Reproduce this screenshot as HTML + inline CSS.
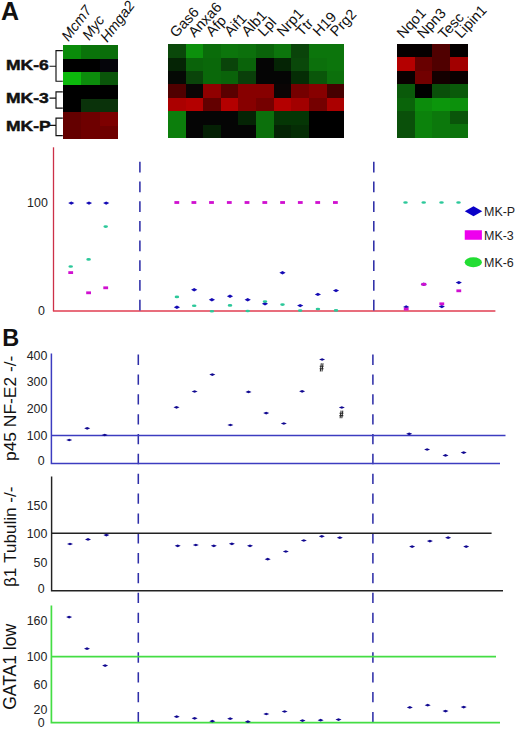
<!DOCTYPE html><html><head><meta charset="utf-8"><style>html,body{margin:0;padding:0;background:#fff;width:520px;height:730px;overflow:hidden}svg{display:block}text{font-family:"Liberation Sans", sans-serif}</style></head><body>
<svg width="520" height="730" viewBox="0 0 520 730">
<rect width="520" height="730" fill="#fff"/>
<rect x="63" y="45" width="18" height="14" fill="rgb(10, 140, 10)" shape-rendering="crispEdges"/>
<rect x="81" y="45" width="19" height="14" fill="rgb(10, 115, 10)" shape-rendering="crispEdges"/>
<rect x="100" y="45" width="18" height="14" fill="rgb(10, 110, 10)" shape-rendering="crispEdges"/>
<rect x="63" y="59" width="18" height="13" fill="rgb(0, 0, 0)" shape-rendering="crispEdges"/>
<rect x="81" y="59" width="19" height="13" fill="rgb(0, 0, 0)" shape-rendering="crispEdges"/>
<rect x="100" y="59" width="18" height="13" fill="rgb(5, 5, 10)" shape-rendering="crispEdges"/>
<rect x="63" y="72" width="18" height="13" fill="rgb(12, 185, 12)" shape-rendering="crispEdges"/>
<rect x="81" y="72" width="19" height="13" fill="rgb(12, 140, 12)" shape-rendering="crispEdges"/>
<rect x="100" y="72" width="18" height="13" fill="rgb(10, 85, 10)" shape-rendering="crispEdges"/>
<rect x="63" y="85" width="18" height="14" fill="rgb(0, 0, 0)" shape-rendering="crispEdges"/>
<rect x="81" y="85" width="19" height="14" fill="rgb(0, 0, 0)" shape-rendering="crispEdges"/>
<rect x="100" y="85" width="18" height="14" fill="rgb(0, 0, 0)" shape-rendering="crispEdges"/>
<rect x="63" y="99" width="18" height="13" fill="rgb(0, 0, 0)" shape-rendering="crispEdges"/>
<rect x="81" y="99" width="19" height="13" fill="rgb(10, 50, 10)" shape-rendering="crispEdges"/>
<rect x="100" y="99" width="18" height="13" fill="rgb(10, 50, 10)" shape-rendering="crispEdges"/>
<rect x="63" y="112" width="18" height="14" fill="rgb(100, 0, 0)" shape-rendering="crispEdges"/>
<rect x="81" y="112" width="19" height="14" fill="rgb(110, 0, 0)" shape-rendering="crispEdges"/>
<rect x="100" y="112" width="18" height="14" fill="rgb(125, 0, 0)" shape-rendering="crispEdges"/>
<rect x="63" y="126" width="18" height="13" fill="rgb(100, 0, 0)" shape-rendering="crispEdges"/>
<rect x="81" y="126" width="19" height="13" fill="rgb(110, 0, 0)" shape-rendering="crispEdges"/>
<rect x="100" y="126" width="18" height="13" fill="rgb(110, 0, 0)" shape-rendering="crispEdges"/>
<rect x="168" y="44" width="18" height="14" fill="rgb(10, 72, 10)" shape-rendering="crispEdges"/>
<rect x="186" y="44" width="17" height="14" fill="rgb(12, 144, 12)" shape-rendering="crispEdges"/>
<rect x="203" y="44" width="18" height="14" fill="rgb(10, 108, 10)" shape-rendering="crispEdges"/>
<rect x="221" y="44" width="17" height="14" fill="rgb(12, 117, 12)" shape-rendering="crispEdges"/>
<rect x="238" y="44" width="18" height="14" fill="rgb(12, 112, 12)" shape-rendering="crispEdges"/>
<rect x="256" y="44" width="18" height="14" fill="rgb(10, 99, 10)" shape-rendering="crispEdges"/>
<rect x="274" y="44" width="17" height="14" fill="rgb(12, 117, 12)" shape-rendering="crispEdges"/>
<rect x="291" y="44" width="18" height="14" fill="rgb(10, 68, 10)" shape-rendering="crispEdges"/>
<rect x="309" y="44" width="18" height="14" fill="rgb(12, 117, 12)" shape-rendering="crispEdges"/>
<rect x="327" y="44" width="17" height="14" fill="rgb(12, 117, 12)" shape-rendering="crispEdges"/>
<rect x="168" y="58" width="18" height="13" fill="rgb(5, 36, 5)" shape-rendering="crispEdges"/>
<rect x="186" y="58" width="17" height="13" fill="rgb(10, 99, 10)" shape-rendering="crispEdges"/>
<rect x="203" y="58" width="18" height="13" fill="rgb(10, 104, 10)" shape-rendering="crispEdges"/>
<rect x="221" y="58" width="17" height="13" fill="rgb(10, 68, 10)" shape-rendering="crispEdges"/>
<rect x="238" y="58" width="18" height="13" fill="rgb(10, 99, 10)" shape-rendering="crispEdges"/>
<rect x="256" y="58" width="18" height="13" fill="rgb(5, 5, 5)" shape-rendering="crispEdges"/>
<rect x="274" y="58" width="17" height="13" fill="rgb(5, 36, 5)" shape-rendering="crispEdges"/>
<rect x="291" y="58" width="18" height="13" fill="rgb(10, 72, 10)" shape-rendering="crispEdges"/>
<rect x="309" y="58" width="18" height="13" fill="rgb(12, 112, 12)" shape-rendering="crispEdges"/>
<rect x="327" y="58" width="17" height="13" fill="rgb(12, 117, 12)" shape-rendering="crispEdges"/>
<rect x="168" y="71" width="18" height="13" fill="rgb(5, 9, 5)" shape-rendering="crispEdges"/>
<rect x="186" y="71" width="17" height="13" fill="rgb(10, 68, 10)" shape-rendering="crispEdges"/>
<rect x="203" y="71" width="18" height="13" fill="rgb(10, 104, 10)" shape-rendering="crispEdges"/>
<rect x="221" y="71" width="17" height="13" fill="rgb(10, 99, 10)" shape-rendering="crispEdges"/>
<rect x="238" y="71" width="18" height="13" fill="rgb(10, 63, 10)" shape-rendering="crispEdges"/>
<rect x="256" y="71" width="18" height="13" fill="rgb(5, 5, 5)" shape-rendering="crispEdges"/>
<rect x="274" y="71" width="17" height="13" fill="rgb(5, 5, 5)" shape-rendering="crispEdges"/>
<rect x="291" y="71" width="18" height="13" fill="rgb(5, 45, 5)" shape-rendering="crispEdges"/>
<rect x="309" y="71" width="18" height="13" fill="rgb(10, 86, 10)" shape-rendering="crispEdges"/>
<rect x="327" y="71" width="17" height="13" fill="rgb(12, 112, 12)" shape-rendering="crispEdges"/>
<rect x="168" y="84" width="18" height="14" fill="rgb(80, 0, 0)" shape-rendering="crispEdges"/>
<rect x="186" y="84" width="17" height="14" fill="rgb(10, 5, 5)" shape-rendering="crispEdges"/>
<rect x="203" y="84" width="18" height="14" fill="rgb(144, 0, 0)" shape-rendering="crispEdges"/>
<rect x="221" y="84" width="17" height="14" fill="rgb(90, 0, 0)" shape-rendering="crispEdges"/>
<rect x="238" y="84" width="18" height="14" fill="rgb(135, 0, 0)" shape-rendering="crispEdges"/>
<rect x="256" y="84" width="18" height="14" fill="rgb(135, 0, 0)" shape-rendering="crispEdges"/>
<rect x="274" y="84" width="17" height="14" fill="rgb(10, 5, 5)" shape-rendering="crispEdges"/>
<rect x="291" y="84" width="18" height="14" fill="rgb(117, 0, 0)" shape-rendering="crispEdges"/>
<rect x="309" y="84" width="18" height="14" fill="rgb(135, 0, 0)" shape-rendering="crispEdges"/>
<rect x="327" y="84" width="17" height="14" fill="rgb(70, 0, 0)" shape-rendering="crispEdges"/>
<rect x="168" y="98" width="18" height="13" fill="rgb(171, 0, 0)" shape-rendering="crispEdges"/>
<rect x="186" y="98" width="17" height="13" fill="rgb(180, 0, 0)" shape-rendering="crispEdges"/>
<rect x="203" y="98" width="18" height="13" fill="rgb(99, 0, 0)" shape-rendering="crispEdges"/>
<rect x="221" y="98" width="17" height="13" fill="rgb(180, 0, 0)" shape-rendering="crispEdges"/>
<rect x="238" y="98" width="18" height="13" fill="rgb(135, 0, 0)" shape-rendering="crispEdges"/>
<rect x="256" y="98" width="18" height="13" fill="rgb(117, 0, 0)" shape-rendering="crispEdges"/>
<rect x="274" y="98" width="17" height="13" fill="rgb(180, 0, 0)" shape-rendering="crispEdges"/>
<rect x="291" y="98" width="18" height="13" fill="rgb(162, 0, 0)" shape-rendering="crispEdges"/>
<rect x="309" y="98" width="18" height="13" fill="rgb(117, 0, 0)" shape-rendering="crispEdges"/>
<rect x="327" y="98" width="17" height="13" fill="rgb(171, 0, 0)" shape-rendering="crispEdges"/>
<rect x="168" y="111" width="18" height="14" fill="rgb(12, 126, 12)" shape-rendering="crispEdges"/>
<rect x="186" y="111" width="17" height="14" fill="rgb(5, 5, 5)" shape-rendering="crispEdges"/>
<rect x="203" y="111" width="18" height="14" fill="rgb(5, 5, 5)" shape-rendering="crispEdges"/>
<rect x="221" y="111" width="17" height="14" fill="rgb(5, 5, 5)" shape-rendering="crispEdges"/>
<rect x="238" y="111" width="18" height="14" fill="rgb(5, 36, 5)" shape-rendering="crispEdges"/>
<rect x="256" y="111" width="18" height="14" fill="rgb(12, 112, 12)" shape-rendering="crispEdges"/>
<rect x="274" y="111" width="17" height="14" fill="rgb(5, 54, 5)" shape-rendering="crispEdges"/>
<rect x="291" y="111" width="18" height="14" fill="rgb(5, 54, 5)" shape-rendering="crispEdges"/>
<rect x="309" y="111" width="18" height="14" fill="rgb(0, 0, 0)" shape-rendering="crispEdges"/>
<rect x="327" y="111" width="17" height="14" fill="rgb(0, 0, 0)" shape-rendering="crispEdges"/>
<rect x="168" y="125" width="18" height="13" fill="rgb(12, 126, 12)" shape-rendering="crispEdges"/>
<rect x="186" y="125" width="17" height="13" fill="rgb(5, 5, 5)" shape-rendering="crispEdges"/>
<rect x="203" y="125" width="18" height="13" fill="rgb(5, 32, 5)" shape-rendering="crispEdges"/>
<rect x="221" y="125" width="17" height="13" fill="rgb(5, 5, 5)" shape-rendering="crispEdges"/>
<rect x="238" y="125" width="18" height="13" fill="rgb(5, 5, 5)" shape-rendering="crispEdges"/>
<rect x="256" y="125" width="18" height="13" fill="rgb(12, 112, 12)" shape-rendering="crispEdges"/>
<rect x="274" y="125" width="17" height="13" fill="rgb(5, 36, 5)" shape-rendering="crispEdges"/>
<rect x="291" y="125" width="18" height="13" fill="rgb(5, 45, 5)" shape-rendering="crispEdges"/>
<rect x="309" y="125" width="18" height="13" fill="rgb(0, 0, 0)" shape-rendering="crispEdges"/>
<rect x="327" y="125" width="17" height="13" fill="rgb(0, 0, 0)" shape-rendering="crispEdges"/>
<rect x="397" y="44" width="18" height="13" fill="rgb(5, 0, 0)" shape-rendering="crispEdges"/>
<rect x="415" y="44" width="17" height="13" fill="rgb(5, 0, 0)" shape-rendering="crispEdges"/>
<rect x="432" y="44" width="18" height="13" fill="rgb(80, 0, 0)" shape-rendering="crispEdges"/>
<rect x="450" y="44" width="18" height="13" fill="rgb(5, 0, 0)" shape-rendering="crispEdges"/>
<rect x="397" y="57" width="18" height="14" fill="rgb(180, 0, 0)" shape-rendering="crispEdges"/>
<rect x="415" y="57" width="17" height="14" fill="rgb(104, 0, 0)" shape-rendering="crispEdges"/>
<rect x="432" y="57" width="18" height="14" fill="rgb(80, 0, 0)" shape-rendering="crispEdges"/>
<rect x="450" y="57" width="18" height="14" fill="rgb(162, 0, 0)" shape-rendering="crispEdges"/>
<rect x="397" y="71" width="18" height="13" fill="rgb(10, 0, 0)" shape-rendering="crispEdges"/>
<rect x="415" y="71" width="17" height="13" fill="rgb(114, 0, 0)" shape-rendering="crispEdges"/>
<rect x="432" y="71" width="18" height="13" fill="rgb(20, 0, 0)" shape-rendering="crispEdges"/>
<rect x="450" y="71" width="18" height="13" fill="rgb(10, 0, 0)" shape-rendering="crispEdges"/>
<rect x="397" y="84" width="18" height="14" fill="rgb(10, 90, 10)" shape-rendering="crispEdges"/>
<rect x="415" y="84" width="17" height="14" fill="rgb(0, 0, 0)" shape-rendering="crispEdges"/>
<rect x="432" y="84" width="18" height="14" fill="rgb(10, 80, 10)" shape-rendering="crispEdges"/>
<rect x="450" y="84" width="18" height="14" fill="rgb(10, 90, 10)" shape-rendering="crispEdges"/>
<rect x="397" y="98" width="18" height="13" fill="rgb(10, 100, 10)" shape-rendering="crispEdges"/>
<rect x="415" y="98" width="17" height="13" fill="rgb(12, 140, 12)" shape-rendering="crispEdges"/>
<rect x="432" y="98" width="18" height="13" fill="rgb(12, 150, 12)" shape-rendering="crispEdges"/>
<rect x="450" y="98" width="18" height="13" fill="rgb(12, 145, 12)" shape-rendering="crispEdges"/>
<rect x="397" y="111" width="18" height="13" fill="rgb(10, 80, 10)" shape-rendering="crispEdges"/>
<rect x="415" y="111" width="17" height="13" fill="rgb(12, 130, 12)" shape-rendering="crispEdges"/>
<rect x="432" y="111" width="18" height="13" fill="rgb(12, 120, 12)" shape-rendering="crispEdges"/>
<rect x="450" y="111" width="18" height="13" fill="rgb(10, 85, 10)" shape-rendering="crispEdges"/>
<rect x="397" y="124" width="18" height="14" fill="rgb(10, 80, 10)" shape-rendering="crispEdges"/>
<rect x="415" y="124" width="17" height="14" fill="rgb(12, 130, 12)" shape-rendering="crispEdges"/>
<rect x="432" y="124" width="18" height="14" fill="rgb(12, 120, 12)" shape-rendering="crispEdges"/>
<rect x="450" y="124" width="18" height="14" fill="rgb(12, 115, 12)" shape-rendering="crispEdges"/>
<text x="1" y="20.3" font-size="25" font-weight="bold" fill="#111">A</text>
<text x="2.2" y="345.8" font-size="23.5" font-weight="bold" fill="#111">B</text>
<text transform="translate(6.0,70.2) scale(1.2,1)" font-size="14.6" font-weight="bold" fill="#111" stroke="#111" stroke-width="0.45">MK-6</text>
<text transform="translate(6.0,103.0) scale(1.2,1)" font-size="14.6" font-weight="bold" fill="#111" stroke="#111" stroke-width="0.45">MK-3</text>
<text transform="translate(6.0,130.8) scale(1.2,1)" font-size="14.6" font-weight="bold" fill="#111" stroke="#111" stroke-width="0.45">MK-P</text>
<path d="M62.8,50.6 H56 V81.25 H62.8 M49.5,66.25 H56" fill="none" stroke="#111" stroke-width="1.15"/>
<path d="M62.8,91.9 H56 V108.1 H62.8 M49.5,98.1 H56" fill="none" stroke="#111" stroke-width="1.15"/>
<path d="M62.8,118.1 H56 V135.6 H62.8 M49.5,125.4 H56" fill="none" stroke="#111" stroke-width="1.15"/>
<text transform="translate(68.50,41.90) rotate(-53)" font-size="14.5" font-style="italic" fill="#111">Mcm7</text>
<text transform="translate(89.20,41.10) rotate(-53)" font-size="14.5" font-style="italic" fill="#111">Myc</text>
<text transform="translate(107.30,43.00) rotate(-53)" font-size="14.5" font-style="italic" fill="#111">Hmga2</text>
<text transform="translate(176.00,38.30) rotate(-47)" font-size="14.5" fill="#111">Gas6</text>
<text transform="translate(194.40,37.90) rotate(-47)" font-size="14.5" fill="#111">Anxa6</text>
<text transform="translate(212.10,37.30) rotate(-47)" font-size="14.5" fill="#111">Afp</text>
<text transform="translate(230.40,37.30) rotate(-47)" font-size="14.5" fill="#111">Aif1</text>
<text transform="translate(247.70,37.30) rotate(-47)" font-size="14.5" fill="#111">Alb1</text>
<text transform="translate(264.10,37.20) rotate(-47)" font-size="14.5" fill="#111">Lpl</text>
<text transform="translate(282.90,37.20) rotate(-47)" font-size="14.5" fill="#111">Nrp1</text>
<text transform="translate(301.90,37.00) rotate(-47)" font-size="14.5" fill="#111">Ttr</text>
<text transform="translate(319.10,37.10) rotate(-47)" font-size="14.5" fill="#111">H19</text>
<text transform="translate(336.30,37.30) rotate(-47)" font-size="14.5" fill="#111">Prg2</text>
<text transform="translate(403.00,39.00) rotate(-47)" font-size="14.5" fill="#111">Nqo1</text>
<text transform="translate(423.20,39.20) rotate(-47)" font-size="14.5" fill="#111">Npn3</text>
<text transform="translate(444.30,40.00) rotate(-47)" font-size="14.5" fill="#111">Tesc</text>
<text transform="translate(461.00,39.10) rotate(-47)" font-size="14.5" fill="#111">Lipin1</text>
<line x1="53.5" y1="147.3" x2="53.5" y2="311" stroke="#cc3048" stroke-width="1.3"/>
<line x1="52.9" y1="311" x2="495.4" y2="311" stroke="#e03c50" stroke-width="1.3"/>
<line x1="139.9" y1="161.8" x2="139.9" y2="311" stroke="#2e2ea8" stroke-width="1.55" stroke-dasharray="10.7 9"/>
<line x1="373.8" y1="161.8" x2="373.8" y2="311" stroke="#2e2ea8" stroke-width="1.55" stroke-dasharray="10.7 9"/>
<text x="47.8" y="206.94" font-size="12.4" text-anchor="end" fill="#222">100</text>
<text x="45.0" y="314.54" font-size="12.4" text-anchor="end" fill="#222">0</text>
<path d="M68.20,203.10 L71.30,201.40 L74.40,203.10 L71.30,204.80 Z" fill="rgb(20,10,180)"/>
<path d="M85.90,203.10 L89.00,201.40 L92.10,203.10 L89.00,204.80 Z" fill="rgb(20,10,180)"/>
<path d="M103.10,203.10 L106.20,201.40 L109.30,203.10 L106.20,204.80 Z" fill="rgb(20,10,180)"/>
<path d="M173.80,307.30 L176.90,305.60 L180.00,307.30 L176.90,309.00 Z" fill="rgb(20,10,180)"/>
<path d="M191.10,289.80 L194.20,288.10 L197.30,289.80 L194.20,291.50 Z" fill="rgb(20,10,180)"/>
<path d="M208.80,299.80 L211.90,298.10 L215.00,299.80 L211.90,301.50 Z" fill="rgb(20,10,180)"/>
<path d="M226.90,296.20 L230.00,294.50 L233.10,296.20 L230.00,297.90 Z" fill="rgb(20,10,180)"/>
<path d="M244.60,299.80 L247.70,298.10 L250.80,299.80 L247.70,301.50 Z" fill="rgb(20,10,180)"/>
<path d="M261.90,303.80 L265.00,302.10 L268.10,303.80 L265.00,305.50 Z" fill="rgb(20,10,180)"/>
<path d="M279.40,272.70 L282.50,271.00 L285.60,272.70 L282.50,274.40 Z" fill="rgb(20,10,180)"/>
<path d="M297.10,305.60 L300.20,303.90 L303.30,305.60 L300.20,307.30 Z" fill="rgb(20,10,180)"/>
<path d="M314.80,294.40 L317.90,292.70 L321.00,294.40 L317.90,296.10 Z" fill="rgb(20,10,180)"/>
<path d="M332.90,290.60 L336.00,288.90 L339.10,290.60 L336.00,292.30 Z" fill="rgb(20,10,180)"/>
<path d="M403.10,306.90 L406.20,305.20 L409.30,306.90 L406.20,308.60 Z" fill="rgb(20,10,180)"/>
<path d="M420.70,284.30 L423.80,282.60 L426.90,284.30 L423.80,286.00 Z" fill="rgb(20,10,180)"/>
<path d="M438.70,306.60 L441.80,304.90 L444.90,306.60 L441.80,308.30 Z" fill="rgb(20,10,180)"/>
<path d="M455.70,282.60 L458.80,280.90 L461.90,282.60 L458.80,284.30 Z" fill="rgb(20,10,180)"/>
<rect x="68.30" y="271.20" width="4.8" height="2.8" fill="#d010d0"/>
<rect x="86.20" y="291.40" width="4.8" height="2.8" fill="#d010d0"/>
<rect x="103.30" y="286.40" width="4.8" height="2.8" fill="#d010d0"/>
<rect x="174.40" y="201.10" width="4.8" height="2.8" fill="#d010d0"/>
<rect x="191.50" y="201.10" width="4.8" height="2.8" fill="#d010d0"/>
<rect x="209.10" y="201.10" width="4.8" height="2.8" fill="#d010d0"/>
<rect x="226.90" y="201.10" width="4.8" height="2.8" fill="#d010d0"/>
<rect x="244.60" y="201.10" width="4.8" height="2.8" fill="#d010d0"/>
<rect x="262.40" y="201.10" width="4.8" height="2.8" fill="#d010d0"/>
<rect x="280.20" y="201.10" width="4.8" height="2.8" fill="#d010d0"/>
<rect x="297.90" y="201.10" width="4.8" height="2.8" fill="#d010d0"/>
<rect x="315.30" y="201.10" width="4.8" height="2.8" fill="#d010d0"/>
<rect x="333.00" y="201.10" width="4.8" height="2.8" fill="#d010d0"/>
<rect x="403.80" y="307.70" width="4.8" height="2.8" fill="#d010d0"/>
<rect x="421.40" y="282.90" width="4.8" height="2.8" fill="#d010d0"/>
<rect x="439.40" y="302.40" width="4.8" height="2.8" fill="#d010d0"/>
<rect x="456.40" y="289.40" width="4.8" height="2.8" fill="#d010d0"/>
<ellipse cx="70.70" cy="266.50" rx="2.3" ry="1.3" fill="#2cc89a"/>
<ellipse cx="88.60" cy="259.40" rx="2.3" ry="1.3" fill="#2cc89a"/>
<ellipse cx="105.70" cy="226.60" rx="2.3" ry="1.3" fill="#2cc89a"/>
<ellipse cx="176.90" cy="296.90" rx="2.3" ry="1.3" fill="#2cc89a"/>
<ellipse cx="194.20" cy="305.80" rx="2.3" ry="1.3" fill="#2cc89a"/>
<ellipse cx="211.90" cy="311.20" rx="2.3" ry="1.3" fill="#2cc89a"/>
<ellipse cx="230.00" cy="305.40" rx="2.3" ry="1.3" fill="#2cc89a"/>
<ellipse cx="247.70" cy="311.00" rx="2.3" ry="1.3" fill="#2cc89a"/>
<ellipse cx="265.00" cy="301.50" rx="2.3" ry="1.3" fill="#2cc89a"/>
<ellipse cx="282.50" cy="304.60" rx="2.3" ry="1.3" fill="#2cc89a"/>
<ellipse cx="300.20" cy="310.60" rx="2.3" ry="1.3" fill="#2cc89a"/>
<ellipse cx="317.90" cy="309.00" rx="2.3" ry="1.3" fill="#2cc89a"/>
<ellipse cx="336.00" cy="310.40" rx="2.3" ry="1.3" fill="#2cc89a"/>
<ellipse cx="405.50" cy="202.50" rx="2.3" ry="1.3" fill="#2cc89a"/>
<ellipse cx="423.70" cy="202.50" rx="2.3" ry="1.3" fill="#2cc89a"/>
<ellipse cx="441.50" cy="202.50" rx="2.3" ry="1.3" fill="#2cc89a"/>
<ellipse cx="458.50" cy="202.50" rx="2.3" ry="1.3" fill="#2cc89a"/>
<path d="M464.75,211.25 L473.50,206.25 L482.25,211.25 L473.50,216.25 Z" fill="rgb(10,0,200)"/>
<rect x="464.75" y="230.25" width="17.15" height="9.5" fill="#ee00ee"/>
<ellipse cx="473.30" cy="262.25" rx="8.6" ry="5" fill="#22dd33"/>
<text x="484.0" y="215.6" font-size="12" fill="#222" transform="translate(484.0,0) scale(1.04,1) translate(-484.0,0)">MK-P</text>
<text x="484.0" y="239.8" font-size="12" fill="#222" transform="translate(484.0,0) scale(1.04,1) translate(-484.0,0)">MK-3</text>
<text x="484.0" y="266.6" font-size="12" fill="#222" transform="translate(484.0,0) scale(1.04,1) translate(-484.0,0)">MK-6</text>
<line x1="138.3" y1="354.6" x2="138.3" y2="723" stroke="#2e2ea8" stroke-width="1.55" stroke-dasharray="10.3 9.55"/>
<line x1="372.9" y1="354.6" x2="372.9" y2="723" stroke="#2e2ea8" stroke-width="1.55" stroke-dasharray="10.3 9.55"/>
<path d="M51.4,353.5 V463.5 H500" fill="none" stroke="#3c3cc0" stroke-width="1.5"/>
<line x1="51.4" y1="435.6" x2="505.5" y2="435.6" stroke="#3c3cc0" stroke-width="1.5"/>
<text x="47.4" y="359.94" font-size="12.4" text-anchor="end" fill="#222">400</text>
<text x="47.4" y="386.14" font-size="12.4" text-anchor="end" fill="#222">300</text>
<text x="47.4" y="412.94" font-size="12.4" text-anchor="end" fill="#222">200</text>
<text x="47.4" y="440.34" font-size="12.4" text-anchor="end" fill="#222">100</text>
<text x="44.6" y="464.74" font-size="12.4" text-anchor="end" fill="#222">0</text>
<path d="M51.6,476.5 V590.7 H503" fill="none" stroke="#222" stroke-width="1.45"/>
<line x1="51.6" y1="533.3" x2="491.6" y2="533.3" stroke="#222" stroke-width="1.45"/>
<text x="47.4" y="510.24" font-size="12.4" text-anchor="end" fill="#222">150</text>
<text x="47.4" y="537.94" font-size="12.4" text-anchor="end" fill="#222">100</text>
<text x="47.4" y="567.44" font-size="12.4" text-anchor="end" fill="#222">50</text>
<text x="44.6" y="593.44" font-size="12.4" text-anchor="end" fill="#222">0</text>
<path d="M51.4,605.5 V722.6 H500" fill="none" stroke="#44dd44" stroke-width="1.7"/>
<line x1="51.4" y1="656.7" x2="496" y2="656.7" stroke="#44dd44" stroke-width="1.7"/>
<text x="47.4" y="624.54" font-size="12.4" text-anchor="end" fill="#222">160</text>
<text x="47.4" y="660.94" font-size="12.4" text-anchor="end" fill="#222">100</text>
<text x="47.4" y="688.74" font-size="12.4" text-anchor="end" fill="#222">60</text>
<text x="47.4" y="714.14" font-size="12.4" text-anchor="end" fill="#222">20</text>
<text x="44.6" y="726.74" font-size="12.4" text-anchor="end" fill="#222">0</text>
<path d="M66.20,440.00 L69.20,438.65 L72.20,440.00 L69.20,441.35 Z" fill="rgb(16,8,144)"/>
<path d="M84.20,428.30 L87.20,426.95 L90.20,428.30 L87.20,429.65 Z" fill="rgb(16,8,144)"/>
<path d="M101.70,435.00 L104.70,433.65 L107.70,435.00 L104.70,436.35 Z" fill="rgb(16,8,144)"/>
<path d="M173.50,407.30 L176.50,405.95 L179.50,407.30 L176.50,408.65 Z" fill="rgb(16,8,144)"/>
<path d="M191.60,391.50 L194.60,390.15 L197.60,391.50 L194.60,392.85 Z" fill="rgb(16,8,144)"/>
<path d="M209.30,374.60 L212.30,373.25 L215.30,374.60 L212.30,375.95 Z" fill="rgb(16,8,144)"/>
<path d="M227.40,425.00 L230.40,423.65 L233.40,425.00 L230.40,426.35 Z" fill="rgb(16,8,144)"/>
<path d="M245.50,391.90 L248.50,390.55 L251.50,391.90 L248.50,393.25 Z" fill="rgb(16,8,144)"/>
<path d="M263.20,413.10 L266.20,411.75 L269.20,413.10 L266.20,414.45 Z" fill="rgb(16,8,144)"/>
<path d="M280.80,423.50 L283.80,422.15 L286.80,423.50 L283.80,424.85 Z" fill="rgb(16,8,144)"/>
<path d="M299.10,391.30 L302.10,389.95 L305.10,391.30 L302.10,392.65 Z" fill="rgb(16,8,144)"/>
<path d="M319.10,359.50 L322.10,358.15 L325.10,359.50 L322.10,360.85 Z" fill="rgb(16,8,144)"/>
<path d="M338.80,407.50 L341.80,406.15 L344.80,407.50 L341.80,408.85 Z" fill="rgb(16,8,144)"/>
<path d="M406.20,433.80 L409.20,432.45 L412.20,433.80 L409.20,435.15 Z" fill="rgb(16,8,144)"/>
<path d="M424.10,449.50 L427.10,448.15 L430.10,449.50 L427.10,450.85 Z" fill="rgb(16,8,144)"/>
<path d="M442.50,455.40 L445.50,454.05 L448.50,455.40 L445.50,456.75 Z" fill="rgb(16,8,144)"/>
<path d="M460.70,452.60 L463.70,451.25 L466.70,452.60 L463.70,453.95 Z" fill="rgb(16,8,144)"/>
<path d="M67.00,544.00 L70.00,542.65 L73.00,544.00 L70.00,545.35 Z" fill="rgb(16,8,144)"/>
<path d="M85.00,539.40 L88.00,538.05 L91.00,539.40 L88.00,540.75 Z" fill="rgb(16,8,144)"/>
<path d="M103.40,535.10 L106.40,533.75 L109.40,535.10 L106.40,536.45 Z" fill="rgb(16,8,144)"/>
<path d="M174.70,545.80 L177.70,544.45 L180.70,545.80 L177.70,547.15 Z" fill="rgb(16,8,144)"/>
<path d="M192.80,545.00 L195.80,543.65 L198.80,545.00 L195.80,546.35 Z" fill="rgb(16,8,144)"/>
<path d="M210.80,545.80 L213.80,544.45 L216.80,545.80 L213.80,547.15 Z" fill="rgb(16,8,144)"/>
<path d="M228.90,543.80 L231.90,542.45 L234.90,543.80 L231.90,545.15 Z" fill="rgb(16,8,144)"/>
<path d="M247.00,545.80 L250.00,544.45 L253.00,545.80 L250.00,547.15 Z" fill="rgb(16,8,144)"/>
<path d="M264.70,559.20 L267.70,557.85 L270.70,559.20 L267.70,560.55 Z" fill="rgb(16,8,144)"/>
<path d="M282.80,551.50 L285.80,550.15 L288.80,551.50 L285.80,552.85 Z" fill="rgb(16,8,144)"/>
<path d="M300.80,540.50 L303.80,539.15 L306.80,540.50 L303.80,541.85 Z" fill="rgb(16,8,144)"/>
<path d="M318.80,536.30 L321.80,534.95 L324.80,536.30 L321.80,537.65 Z" fill="rgb(16,8,144)"/>
<path d="M336.80,537.70 L339.80,536.35 L342.80,537.70 L339.80,539.05 Z" fill="rgb(16,8,144)"/>
<path d="M409.10,546.60 L412.10,545.25 L415.10,546.60 L412.10,547.95 Z" fill="rgb(16,8,144)"/>
<path d="M426.90,541.10 L429.90,539.75 L432.90,541.10 L429.90,542.45 Z" fill="rgb(16,8,144)"/>
<path d="M445.10,537.70 L448.10,536.35 L451.10,537.70 L448.10,539.05 Z" fill="rgb(16,8,144)"/>
<path d="M463.20,546.60 L466.20,545.25 L469.20,546.60 L466.20,547.95 Z" fill="rgb(16,8,144)"/>
<path d="M66.10,617.10 L69.10,615.75 L72.10,617.10 L69.10,618.45 Z" fill="rgb(16,8,144)"/>
<path d="M84.00,648.70 L87.00,647.35 L90.00,648.70 L87.00,650.05 Z" fill="rgb(16,8,144)"/>
<path d="M102.10,665.60 L105.10,664.25 L108.10,665.60 L105.10,666.95 Z" fill="rgb(16,8,144)"/>
<path d="M173.70,716.70 L176.70,715.35 L179.70,716.70 L176.70,718.05 Z" fill="rgb(16,8,144)"/>
<path d="M191.60,718.30 L194.60,716.95 L197.60,718.30 L194.60,719.65 Z" fill="rgb(16,8,144)"/>
<path d="M209.30,721.20 L212.30,719.85 L215.30,721.20 L212.30,722.55 Z" fill="rgb(16,8,144)"/>
<path d="M227.20,718.70 L230.20,717.35 L233.20,718.70 L230.20,720.05 Z" fill="rgb(16,8,144)"/>
<path d="M244.90,721.70 L247.90,720.35 L250.90,721.70 L247.90,723.05 Z" fill="rgb(16,8,144)"/>
<path d="M263.30,714.00 L266.30,712.65 L269.30,714.00 L266.30,715.35 Z" fill="rgb(16,8,144)"/>
<path d="M281.60,711.50 L284.60,710.15 L287.60,711.50 L284.60,712.85 Z" fill="rgb(16,8,144)"/>
<path d="M299.50,720.60 L302.50,719.25 L305.50,720.60 L302.50,721.95 Z" fill="rgb(16,8,144)"/>
<path d="M317.60,720.20 L320.60,718.85 L323.60,720.20 L320.60,721.55 Z" fill="rgb(16,8,144)"/>
<path d="M335.50,719.60 L338.50,718.25 L341.50,719.60 L338.50,720.95 Z" fill="rgb(16,8,144)"/>
<path d="M406.80,707.40 L409.80,706.05 L412.80,707.40 L409.80,708.75 Z" fill="rgb(16,8,144)"/>
<path d="M424.70,705.20 L427.70,703.85 L430.70,705.20 L427.70,706.55 Z" fill="rgb(16,8,144)"/>
<path d="M442.50,711.10 L445.50,709.75 L448.50,711.10 L445.50,712.45 Z" fill="rgb(16,8,144)"/>
<path d="M460.70,707.10 L463.70,705.75 L466.70,707.10 L463.70,708.45 Z" fill="rgb(16,8,144)"/>
<path d="M321.30,363.2 L320.30,371.5 M323.00,363.2 L322.00,371.5 M319.70,366.19 H323.60 M319.60,368.68 H323.50" stroke="#2a2a2a" stroke-width="1.05" fill="none"/>
<path d="M341.10,410.6 L340.10,418.2 M342.80,410.6 L341.80,418.2 M339.50,413.34 H343.40 M339.40,415.62 H343.30" stroke="#2a2a2a" stroke-width="1.05" fill="none"/>
<text transform="translate(15.6,461.0) rotate(-90)" font-size="17.4" fill="#111">p45 NF-E2 -/-</text>
<text transform="translate(15.8,587.0) rotate(-90)" font-size="17.1" fill="#111">β1 Tubulin -/-</text>
<text transform="translate(15.6,709.8) rotate(-90)" font-size="17.5" fill="#111">GATA1 low</text>
</svg></body></html>
